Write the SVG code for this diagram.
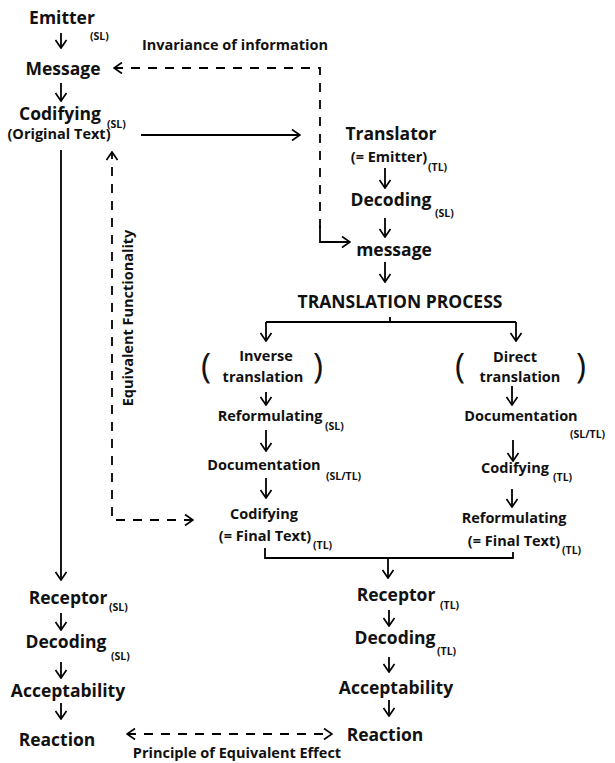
<svg xmlns="http://www.w3.org/2000/svg" width="615" height="763" viewBox="0 0 615 763">
<defs>
<marker id="a" viewBox="0 0 10 12" refX="9" refY="6" markerWidth="10" markerHeight="12" orient="auto-start-reverse" markerUnits="userSpaceOnUse"><path d="M1,0.5 L9,6 L1,11.5" fill="none" stroke="#000" stroke-width="1.7"/></marker>
</defs>
<style>
text{font-family:"Open Sans",Lato,"Liberation Sans",sans-serif;font-weight:bold;fill:#111}
.m{font-size:17.5px;text-anchor:middle}
.n{font-size:14.5px;text-anchor:middle}
.s{font-size:10.5px}
.l{font-size:14.5px;text-anchor:middle}
.p{font-size:34px;font-weight:normal;text-anchor:middle}
.c path{fill:none;stroke:#000;stroke-width:1.8}
.c .ar{marker-end:url(#a)}
.c .d{stroke-dasharray:9 8}
</style>
<rect width="615" height="763" fill="#fff"/>
<g class="c" id="connectors">
<path class="ar" d="M61,33V48"/>
<path class="ar" d="M61,83V101"/>
<path class="ar" d="M61,150V580"/>
<path class="ar" d="M61,613V630"/>
<path class="ar" d="M61,662V678"/>
<path class="ar" d="M61,703V719"/>
<path class="ar" d="M141,135H300"/>
<path class="ar" d="M385,168V188"/>
<path class="ar" d="M385,218V237"/>
<path class="ar" d="M385,262V282"/>
<path d="M390,317V322M266,322H516"/>
<path class="ar" d="M266,322V341"/>
<path class="ar" d="M516,322V341"/>
<path class="ar" d="M266,392V405"/>
<path class="ar" d="M266,430V451"/>
<path class="ar" d="M266,478V498"/>
<path class="ar" d="M512,386V405"/>
<path class="ar" d="M513,440V461"/>
<path class="ar" d="M512,489V507"/>
<path d="M265,548V558H513V552"/>
<path class="ar" d="M388,558V578"/>
<path class="ar" d="M389,610V626"/>
<path class="ar" d="M389,657V672"/>
<path class="ar" d="M389,700V716"/>
<path class="d ar" d="M320,228V68H114"/>
<path class="ar" d="M320,226V242H350"/>
<path class="d ar" d="M193,520H112V152" style="marker-start:url(#a)"/>
<path class="d ar" d="M127,734H332" style="marker-start:url(#a)"/>
</g>
<g id="emitter"><text class="m" x="62" y="24">Emitter</text><text class="s" x="90" y="40">(SL)</text></g>
<g id="message-sl"><text class="m" x="63" y="75">Message</text></g>
<g id="codifying-sl"><text class="m" x="60" y="120">Codifying</text><text class="s" x="107" y="128">(SL)</text><text class="n" x="59" y="139">(Original Text)</text></g>
<g id="invariance"><text class="l" x="235" y="50">Invariance of information</text></g>
<g id="translator"><text class="m" x="391" y="140">Translator</text><text class="n" x="389" y="162">(= Emitter)</text><text class="s" x="428" y="171">(TL)</text></g>
<g id="decoding-t"><text class="m" x="391" y="206">Decoding</text><text class="s" x="435" y="217">(SL)</text></g>
<g id="message-t"><text class="m" x="394" y="256">message</text></g>
<g id="process"><text class="m" x="400" y="308">TRANSLATION PROCESS</text></g>
<g id="inverse"><text class="p" x="206" y="378">(</text><text class="n" x="266" y="361">Inverse</text><text class="n" x="263" y="382">translation</text><text class="p" x="318" y="378">)</text></g>
<g id="direct"><text class="p" x="460" y="378">(</text><text class="n" x="515" y="362">Direct</text><text class="n" x="520" y="382">translation</text><text class="p" x="581" y="378">)</text></g>
<g id="reformulating-l"><text class="n" x="270" y="421">Reformulating</text><text class="s" x="325" y="430">(SL)</text></g>
<g id="documentation-l"><text class="n" x="264" y="470">Documentation</text><text class="s" x="326" y="480">(SL/TL)</text></g>
<g id="codifying-l"><text class="n" x="264" y="519">Codifying</text><text class="n" x="265" y="541">(= Final Text)</text><text class="s" x="313" y="549">(TL)</text></g>
<g id="documentation-r"><text class="n" x="521" y="421">Documentation</text><text class="s" x="570" y="438">(SL/TL)</text></g>
<g id="codifying-r"><text class="n" x="515" y="473">Codifying</text><text class="s" x="553" y="481">(TL)</text></g>
<g id="reformulating-r"><text class="n" x="514" y="523">Reformulating</text><text class="n" x="514" y="546">(= Final Text)</text><text class="s" x="562" y="554">(TL)</text></g>
<g id="receptor-tl"><text class="m" x="396" y="601">Receptor</text><text class="s" x="440" y="609">(TL)</text></g>
<g id="decoding-tl"><text class="m" x="395" y="644">Decoding</text><text class="s" x="437" y="655">(TL)</text></g>
<g id="acceptability-tl"><text class="m" x="396" y="694">Acceptability</text></g>
<g id="reaction-tl"><text class="m" x="385" y="741">Reaction</text></g>
<g id="receptor-sl"><text class="m" x="68" y="604">Receptor</text><text class="s" x="109" y="611">(SL)</text></g>
<g id="decoding-sl"><text class="m" x="66" y="648">Decoding</text><text class="s" x="111" y="660">(SL)</text></g>
<g id="acceptability-sl"><text class="m" x="68" y="697">Acceptability</text></g>
<g id="reaction-sl"><text class="m" x="57" y="746">Reaction</text></g>
<g id="equivalent-functionality"><text class="l" transform="translate(133,318) rotate(-90)">Equivalent Functionality</text></g>
<g id="equivalent-effect"><text class="l" x="237" y="758">Principle of Equivalent Effect</text></g>
</svg>
